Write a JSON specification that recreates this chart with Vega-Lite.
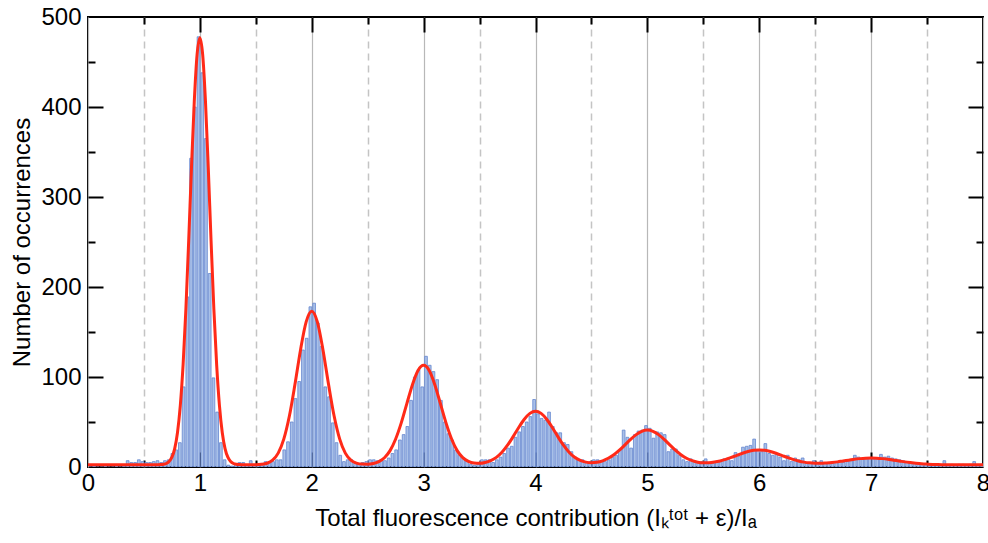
{
  "$schema": "https://vega.github.io/schema/vega-lite/v6.json",
  "width": 895,
  "height": 450,
  "autosize": {"type": "none"},
  "padding": {"left": 88, "top": 17, "right": 5, "bottom": 76},
  "background": "white",
  "config": {
    "view": {"stroke": "#000000", "strokeWidth": 2},
    "font": "Liberation Sans",
    "axis": {"labelColor": "#000000", "titleColor": "#000000", "labelFont": "Liberation Sans", "titleFont": "Liberation Sans", "titleFontWeight": "normal"}
  },
  "datasets": {
    "hist": [
      {"x":0.0167,"n":0},{"x":0.05,"n":1},{"x":0.0833,"n":0},{"x":0.1167,"n":0},{"x":0.15,"n":1},{"x":0.1833,"n":0},{"x":0.2167,"n":0},{"x":0.25,"n":1},{"x":0.2833,"n":0},{"x":0.3167,"n":1},
      {"x":0.35,"n":7},{"x":0.3833,"n":5},{"x":0.4167,"n":5},{"x":0.45,"n":8},{"x":0.4833,"n":6},{"x":0.5167,"n":5},{"x":0.55,"n":5},{"x":0.5833,"n":6},{"x":0.6167,"n":7},{"x":0.65,"n":5},
      {"x":0.6833,"n":7},{"x":0.7167,"n":8},{"x":0.75,"n":15},{"x":0.7833,"n":19},{"x":0.8167,"n":27},{"x":0.85,"n":89},{"x":0.8833,"n":189},{"x":0.9167,"n":343},{"x":0.95,"n":400},{"x":0.9833,"n":478},
      {"x":1.0167,"n":438},{"x":1.05,"n":365},{"x":1.0833,"n":215},{"x":1.1167,"n":99},{"x":1.15,"n":61},{"x":1.1833,"n":27},{"x":1.2167,"n":8},{"x":1.25,"n":2},{"x":1.2833,"n":1},{"x":1.3167,"n":3},
      {"x":1.35,"n":5},{"x":1.3833,"n":5},{"x":1.4167,"n":2},{"x":1.45,"n":7},{"x":1.4833,"n":3},{"x":1.5167,"n":2},{"x":1.55,"n":4},{"x":1.5833,"n":6},{"x":1.6167,"n":5},{"x":1.65,"n":6},
      {"x":1.6833,"n":8},{"x":1.7167,"n":8},{"x":1.75,"n":19},{"x":1.7833,"n":28},{"x":1.8167,"n":50},{"x":1.85,"n":76},{"x":1.8833,"n":95},{"x":1.9167,"n":130},{"x":1.95,"n":143},{"x":1.9833,"n":178},
      {"x":2.0167,"n":182},{"x":2.05,"n":160},{"x":2.0833,"n":134},{"x":2.1167,"n":89},{"x":2.15,"n":78},{"x":2.1833,"n":49},{"x":2.2167,"n":27},{"x":2.25,"n":13},{"x":2.2833,"n":6},{"x":2.3167,"n":8},
      {"x":2.35,"n":8},{"x":2.3833,"n":4},{"x":2.4167,"n":4},{"x":2.45,"n":5},{"x":2.4833,"n":6},{"x":2.5167,"n":8},{"x":2.55,"n":8},{"x":2.5833,"n":7},{"x":2.6167,"n":8},{"x":2.65,"n":7},
      {"x":2.6833,"n":10},{"x":2.7167,"n":15},{"x":2.75,"n":19},{"x":2.7833,"n":30},{"x":2.8167,"n":36},{"x":2.85,"n":45},{"x":2.8833,"n":74},{"x":2.9167,"n":100},{"x":2.95,"n":108},{"x":2.9833,"n":89},
      {"x":3.0167,"n":123},{"x":3.05,"n":113},{"x":3.0833,"n":106},{"x":3.1167,"n":97},{"x":3.15,"n":74},{"x":3.1833,"n":50},{"x":3.2167,"n":37},{"x":3.25,"n":30},{"x":3.2833,"n":19},{"x":3.3167,"n":13},
      {"x":3.35,"n":10},{"x":3.3833,"n":7},{"x":3.4167,"n":3},{"x":3.45,"n":2},{"x":3.4833,"n":3},{"x":3.5167,"n":8},{"x":3.55,"n":8},{"x":3.5833,"n":8},{"x":3.6167,"n":5},{"x":3.65,"n":8},
      {"x":3.6833,"n":11},{"x":3.7167,"n":15},{"x":3.75,"n":21},{"x":3.7833,"n":23},{"x":3.8167,"n":33},{"x":3.85,"n":39},{"x":3.8833,"n":45},{"x":3.9167,"n":50},{"x":3.95,"n":56},{"x":3.9833,"n":75},
      {"x":4.0167,"n":59},{"x":4.05,"n":54},{"x":4.0833,"n":52},{"x":4.1167,"n":61},{"x":4.15,"n":45},{"x":4.1833,"n":38},{"x":4.2167,"n":38},{"x":4.25,"n":27},{"x":4.2833,"n":25},{"x":4.3167,"n":17},
      {"x":4.35,"n":11},{"x":4.3833,"n":8},{"x":4.4167,"n":8},{"x":4.45,"n":5},{"x":4.4833,"n":6},{"x":4.5167,"n":8},{"x":4.55,"n":8},{"x":4.5833,"n":6},{"x":4.6167,"n":6},{"x":4.65,"n":8},
      {"x":4.6833,"n":11},{"x":4.7167,"n":13},{"x":4.75,"n":19},{"x":4.7833,"n":41},{"x":4.8167,"n":33},{"x":4.85,"n":21},{"x":4.8833,"n":36},{"x":4.9167,"n":40},{"x":4.95,"n":41},{"x":4.9833,"n":46},
      {"x":5.0167,"n":43},{"x":5.05,"n":32},{"x":5.0833,"n":39},{"x":5.1167,"n":38},{"x":5.15,"n":36},{"x":5.1833,"n":17},{"x":5.2167,"n":20},{"x":5.25,"n":20},{"x":5.2833,"n":13},{"x":5.3167,"n":8},
      {"x":5.35,"n":6},{"x":5.3833,"n":9},{"x":5.4167,"n":6},{"x":5.45,"n":6},{"x":5.4833,"n":6},{"x":5.5167,"n":9},{"x":5.55,"n":4},{"x":5.5833,"n":4},{"x":5.6167,"n":6},{"x":5.65,"n":6},
      {"x":5.6833,"n":9},{"x":5.7167,"n":10},{"x":5.75,"n":7},{"x":5.7833,"n":16},{"x":5.8167,"n":12},{"x":5.85,"n":22},{"x":5.8833,"n":23},{"x":5.9167,"n":24},{"x":5.95,"n":31},{"x":5.9833,"n":19},
      {"x":6.0167,"n":17},{"x":6.05,"n":26},{"x":6.0833,"n":15},{"x":6.1167,"n":13},{"x":6.15,"n":15},{"x":6.1833,"n":11},{"x":6.2167,"n":7},{"x":6.25,"n":13},{"x":6.2833,"n":6},{"x":6.3167,"n":10},
      {"x":6.35,"n":8},{"x":6.3833,"n":10},{"x":6.4167,"n":4},{"x":6.45,"n":4},{"x":6.4833,"n":7},{"x":6.5167,"n":5},{"x":6.55,"n":7},{"x":6.5833,"n":5},{"x":6.6167,"n":5},{"x":6.65,"n":4},
      {"x":6.6833,"n":5},{"x":6.7167,"n":6},{"x":6.75,"n":5},{"x":6.7833,"n":6},{"x":6.8167,"n":7},{"x":6.85,"n":13},{"x":6.8833,"n":11},{"x":6.9167,"n":9},{"x":6.95,"n":9},{"x":6.9833,"n":10},
      {"x":7.0167,"n":9},{"x":7.05,"n":9},{"x":7.0833,"n":14},{"x":7.1167,"n":11},{"x":7.15,"n":12},{"x":7.1833,"n":10},{"x":7.2167,"n":9},{"x":7.25,"n":8},{"x":7.2833,"n":7},{"x":7.3167,"n":6},
      {"x":7.35,"n":5},{"x":7.3833,"n":4},{"x":7.4167,"n":4},{"x":7.45,"n":3},{"x":7.4833,"n":3},{"x":7.5167,"n":3},{"x":7.55,"n":2},{"x":7.5833,"n":3},{"x":7.6167,"n":3},{"x":7.65,"n":7},
      {"x":7.6833,"n":2},{"x":7.7167,"n":3},{"x":7.75,"n":2},{"x":7.7833,"n":3},{"x":7.8167,"n":3},{"x":7.85,"n":2},{"x":7.8833,"n":3},{"x":7.9167,"n":6},{"x":7.95,"n":2},{"x":7.9833,"n":3}
    ],
    "fit": [
      {"x":0,"y":2.5},{"x":0.2,"y":2.5},{"x":0.4,"y":2.5},{"x":0.6,"y":2.5},{"x":0.65,"y":2.7},{"x":0.675,"y":3.0},{"x":0.7,"y":3.9},{"x":0.725,"y":6.1},{"x":0.75,"y":10.9},{"x":0.775,"y":20.5},
      {"x":0.8,"y":38.4},{"x":0.825,"y":68.2},{"x":0.85,"y":113.4},{"x":0.875,"y":175.6},{"x":0.9,"y":251.4},{"x":0.925,"y":332.6},{"x":0.95,"y":406.3},{"x":0.975,"y":458.2},{"x":1.0,"y":477.0},
      {"x":1.025,"y":458.2},{"x":1.05,"y":406.3},{"x":1.075,"y":332.6},{"x":1.1,"y":251.4},{"x":1.125,"y":175.6},{"x":1.15,"y":113.4},{"x":1.175,"y":68.2},{"x":1.2,"y":38.4},{"x":1.225,"y":20.5},
      {"x":1.25,"y":10.9},{"x":1.275,"y":6.1},{"x":1.3,"y":3.9},{"x":1.325,"y":3.0},{"x":1.35,"y":2.7},{"x":1.4,"y":2.5},{"x":1.45,"y":2.5},{"x":1.5,"y":2.6},{"x":1.55,"y":3.0},{"x":1.6,"y":4.2},
      {"x":1.65,"y":7.6},{"x":1.7,"y":15.4},{"x":1.75,"y":30.9},{"x":1.8,"y":56.6},{"x":1.85,"y":91.9},{"x":1.9,"y":130.4},{"x":1.95,"y":161.2},{"x":2.0,"y":173.0},{"x":2.05,"y":161.2},{"x":2.1,"y":130.4},
      {"x":2.15,"y":91.9},{"x":2.2,"y":56.6},{"x":2.25,"y":30.9},{"x":2.3,"y":15.4},{"x":2.35,"y":7.6},{"x":2.4,"y":4.3},{"x":2.45,"y":3.2},{"x":2.5,"y":3.1},{"x":2.55,"y":3.9},{"x":2.6,"y":6.0},
      {"x":2.65,"y":10.3},{"x":2.7,"y":18.2},{"x":2.75,"y":31.1},{"x":2.8,"y":49.0},{"x":2.85,"y":70.4},{"x":2.9,"y":91.5},{"x":2.95,"y":107.2},{"x":3.0,"y":113.0},{"x":3.05,"y":107.2},{"x":3.1,"y":91.5},
      {"x":3.15,"y":70.4},{"x":3.2,"y":49.0},{"x":3.25,"y":31.1},{"x":3.3,"y":18.2},{"x":3.35,"y":10.4},{"x":3.4,"y":6.2},{"x":3.45,"y":4.4},{"x":3.5,"y":4.1},{"x":3.55,"y":5.0},{"x":3.6,"y":7.1},
      {"x":3.65,"y":10.7},{"x":3.7,"y":16.4},{"x":3.75,"y":24.2},{"x":3.8,"y":33.7},{"x":3.85,"y":43.9},{"x":3.9,"y":53.1},{"x":3.95,"y":59.6},{"x":4.0,"y":62.0},{"x":4.05,"y":59.6},{"x":4.1,"y":53.1},
      {"x":4.15,"y":43.9},{"x":4.2,"y":33.7},{"x":4.25,"y":24.2},{"x":4.3,"y":16.4},{"x":4.35,"y":10.8},{"x":4.4,"y":7.3},{"x":4.45,"y":5.4},{"x":4.5,"y":4.8},{"x":4.55,"y":5.3},{"x":4.6,"y":6.9},
      {"x":4.65,"y":9.7},{"x":4.7,"y":13.6},{"x":4.75,"y":18.7},{"x":4.8,"y":24.6},{"x":4.85,"y":30.7},{"x":4.9,"y":36.0},{"x":4.95,"y":39.7},{"x":5.0,"y":41.0},{"x":5.05,"y":39.7},{"x":5.1,"y":36.0},
      {"x":5.15,"y":30.7},{"x":5.2,"y":24.6},{"x":5.25,"y":18.7},{"x":5.3,"y":13.7},{"x":5.35,"y":9.7},{"x":5.4,"y":7.0},{"x":5.45,"y":5.3},{"x":5.5,"y":4.7},{"x":5.55,"y":4.8},{"x":5.6,"y":5.5},
      {"x":5.65,"y":6.7},{"x":5.7,"y":8.4},{"x":5.75,"y":10.6},{"x":5.8,"y":13.0},{"x":5.85,"y":15.3},{"x":5.9,"y":17.2},{"x":5.95,"y":18.5},{"x":6.0,"y":19.0},{"x":6.05,"y":18.5},{"x":6.1,"y":17.2},
      {"x":6.15,"y":15.3},{"x":6.2,"y":13.0},{"x":6.25,"y":10.6},{"x":6.3,"y":8.4},{"x":6.35,"y":6.7},{"x":6.4,"y":5.4},{"x":6.45,"y":4.6},{"x":6.5,"y":4.2},{"x":6.55,"y":4.1},{"x":6.6,"y":4.5},
      {"x":6.65,"y":5.0},{"x":6.7,"y":5.7},{"x":6.75,"y":6.7},{"x":6.8,"y":7.6},{"x":6.85,"y":8.6},{"x":6.9,"y":9.3},{"x":6.95,"y":9.8},{"x":7.0,"y":10.0},{"x":7.05,"y":9.8},{"x":7.1,"y":9.3},
      {"x":7.15,"y":8.6},{"x":7.2,"y":7.6},{"x":7.25,"y":6.7},{"x":7.3,"y":5.7},{"x":7.35,"y":4.9},{"x":7.4,"y":4.2},{"x":7.45,"y":3.6},{"x":7.5,"y":3.2},{"x":7.55,"y":2.9},{"x":7.6,"y":2.7},
      {"x":7.65,"y":2.6},{"x":7.7,"y":2.55},{"x":7.8,"y":2.5},{"x":8.0,"y":2.5}
    ]
  },
  "resolve": {"axis": {"x": "independent", "y": "independent"}},
  "layer": [
    {
      "data": {"name": "hist"},
      "mark": {"type": "bar", "fill": "#a9c0e8", "stroke": "#6487cf", "strokeWidth": 0.8, "clip": true},
      "encoding": {
        "x": {
          "field": "x", "type": "quantitative",
          "bin": {"step": 0.0333333333333333, "extent": [0, 8], "nice": false},
          "scale": {"domain": [0, 8], "nice": false, "zero": false},
          "axis": {
            "orient": "bottom",
            "values": [0,0.5,1,1.5,2,2.5,3,3.5,4,4.5,5,5.5,6,6.5,7,7.5,8],
            "labelExpr": "datum.value % 1 === 0 ? format(datum.value, 'd') : ''",
            "grid": true,
            "gridColor": {"condition": {"test": "datum.value % 1 !== 0", "value": "#c4c4c4"}, "value": "#b8b8b8"},
            "gridDash": {"condition": {"test": "datum.value % 1 !== 0", "value": [7, 5]}, "value": []},
            "gridWidth": {"condition": {"test": "datum.value % 1 !== 0", "value": 1.5}, "value": 1.2},
            "ticks": false,
            "domain": false,
            "labelFontSize": 24,
            "labelPadding": 4,
            "labelFlush": false,
            "labelOverlap": false,
            "title": "Total fluorescence contribution (Iₖᵗᵒᵗ + ε)/Iₐ",
            "titleFontSize": 24,
            "titlePadding": 11
          }
        },
        "y": {
          "aggregate": "sum", "field": "n", "type": "quantitative",
          "scale": {"domain": [0, 500], "nice": false},
          "axis": {
            "orient": "left",
            "values": [0, 100, 200, 300, 400, 500],
            "grid": false,
            "ticks": false,
            "domain": false,
            "labelFontSize": 24,
            "labelPadding": 7,
            "labelFlush": false,
            "labelOverlap": false,
            "title": "Number of occurrences",
            "titleFontSize": 24,
            "titlePadding": 6
          }
        }
      }
    },
    {
      "data": {"name": "fit"},
      "mark": {"type": "line", "color": "#ff2a18", "strokeWidth": 3, "interpolate": "monotone", "clip": true},
      "encoding": {
        "x": {
          "field": "x", "type": "quantitative",
          "scale": {"domain": [0, 8], "nice": false, "zero": false},
          "axis": {
            "orient": "bottom",
            "values": [0.5,1,1.5,2,2.5,3,3.5,4,4.5,5,5.5,6,6.5,7,7.5],
            "labels": false, "grid": false, "domain": false, "title": null,
            "ticks": true, "tickColor": "#000000", "tickWidth": 2,
            "tickSize": {"condition": {"test": "datum.value % 1 === 0", "value": -15}, "value": -7}
          }
        },
        "y": {
          "field": "y", "type": "quantitative",
          "scale": {"domain": [0, 500], "nice": false},
          "axis": {
            "orient": "left",
            "values": [50,100,150,200,250,300,350,400,450],
            "labels": false, "grid": false, "domain": false, "title": null,
            "ticks": true, "tickColor": "#000000", "tickWidth": 2,
            "tickSize": {"condition": {"test": "datum.value % 100 === 0", "value": -15}, "value": -7}
          }
        }
      }
    },
    {
      "data": {"name": "fit"},
      "mark": {"type": "line", "strokeOpacity": 0, "clip": true},
      "encoding": {
        "x": {
          "field": "x", "type": "quantitative",
          "scale": {"domain": [0, 8], "nice": false, "zero": false},
          "axis": {
            "orient": "top",
            "values": [0.5,1,1.5,2,2.5,3,3.5,4,4.5,5,5.5,6,6.5,7,7.5],
            "labels": false, "grid": false, "domain": false, "title": null,
            "ticks": true, "tickColor": "#000000", "tickWidth": 2,
            "tickSize": {"condition": {"test": "datum.value % 1 === 0", "value": -15}, "value": -7}
          }
        },
        "y": {
          "field": "y", "type": "quantitative",
          "scale": {"domain": [0, 500], "nice": false},
          "axis": {
            "orient": "right",
            "values": [50,100,150,200,250,300,350,400,450],
            "labels": false, "grid": false, "domain": false, "title": null,
            "ticks": true, "tickColor": "#000000", "tickWidth": 2,
            "tickSize": {"condition": {"test": "datum.value % 100 === 0", "value": -15}, "value": -7}
          }
        }
      }
    }
  ]
}
